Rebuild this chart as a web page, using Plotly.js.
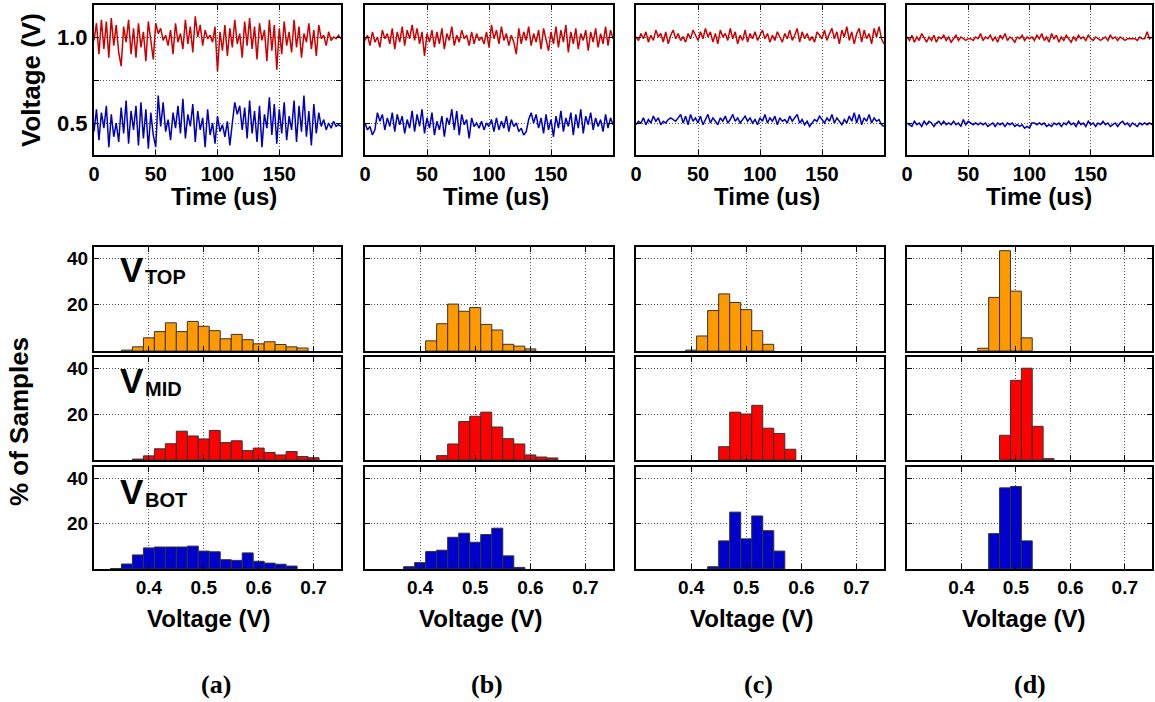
<!DOCTYPE html>
<html>
<head>
<meta charset="utf-8">
<script src="https://cdn.plot.ly/plotly-3.0.1.min.js"></script>
<style>html,body{margin:0;padding:0;background:#fff;}#chart{width:1155px;height:702px;}</style>
</head>
<body>
<div id="chart"></div>
<script>
// ---------- DATA ----------
const time = [0,2,4,6,8,10,12,14,16,18,20,22,24,26,28,30,32,34,36,38,40,42,44,46,48,50,52,54,56,58,60,62,64,66,68,70,72,74,76,78,80,82,84,86,88,90,92,94,96,98,100,102,104,106,108,110,112,114,116,118,120,122,124,126,128,130,132,134,136,138,140,142,144,146,148,150,152,154,156,158,160,162,164,166,168,170,172,174,176,178,180,182,184,186,188,190,192,194,196,198,200];

const redA = [0.98,1.08,0.90,1.10,0.93,1.09,0.88,1.11,0.95,1.07,0.91,0.83,1.06,0.97,1.10,0.90,1.05,0.88,1.08,0.94,1.03,0.86,1.09,0.99,0.87,1.08,1.02,1.05,0.98,1.01,0.95,1.04,0.90,1.08,0.97,1.02,0.93,1.10,0.96,1.06,0.91,1.12,1.00,1.07,0.95,1.04,0.99,1.01,0.97,1.06,0.80,1.03,0.92,1.07,0.89,1.05,0.94,1.10,0.96,1.02,0.88,1.09,0.95,1.11,0.93,1.06,0.87,1.08,0.98,1.04,0.86,1.10,0.92,1.07,0.81,1.05,0.90,1.09,0.95,1.03,0.91,1.10,0.94,1.06,0.88,1.02,0.97,1.08,0.93,1.04,0.89,1.07,0.99,1.01,0.95,1.03,0.98,1.00,0.99,1.01,0.99];
const blueA = [0.45,0.58,0.40,0.56,0.47,0.60,0.36,0.55,0.42,0.50,0.39,0.59,0.44,0.63,0.38,0.57,0.46,0.60,0.37,0.62,0.41,0.58,0.35,0.56,0.43,0.36,0.66,0.48,0.62,0.45,0.52,0.40,0.56,0.47,0.60,0.44,0.64,0.41,0.55,0.48,0.61,0.39,0.57,0.46,0.53,0.36,0.58,0.43,0.50,0.38,0.54,0.45,0.49,0.42,0.51,0.37,0.50,0.62,0.55,0.60,0.46,0.59,0.41,0.63,0.44,0.57,0.39,0.60,0.36,0.55,0.47,0.65,0.43,0.61,0.38,0.58,0.44,0.62,0.40,0.54,0.46,0.63,0.39,0.60,0.45,0.66,0.42,0.57,0.37,0.61,0.44,0.56,0.48,0.52,0.46,0.50,0.47,0.51,0.48,0.49,0.48];

const redB = [0.98,1.01,0.95,1.03,0.97,1.00,0.94,1.04,0.99,1.02,0.96,1.05,0.93,1.03,0.97,1.06,0.95,1.04,0.99,1.07,0.98,1.05,0.96,1.03,0.89,1.02,0.97,1.04,0.94,1.03,0.96,1.05,0.93,1.02,0.98,1.06,0.95,1.01,0.97,1.04,0.99,1.01,0.95,1.03,0.96,1.02,0.98,1.00,0.96,1.03,0.94,1.07,0.99,1.04,0.96,1.06,0.98,1.02,0.95,1.01,0.97,0.90,1.05,0.96,1.03,0.98,1.06,0.95,1.02,0.97,1.04,0.93,1.05,0.99,0.92,1.03,0.96,1.06,0.94,1.04,0.97,1.07,0.91,1.03,0.96,1.05,0.93,1.02,0.98,1.04,0.92,1.03,0.97,1.05,0.94,1.02,0.96,1.06,0.95,1.04,0.99];
const blueB = [0.50,0.46,0.48,0.43,0.46,0.56,0.51,0.55,0.46,0.53,0.48,0.56,0.45,0.55,0.49,0.54,0.44,0.52,0.47,0.57,0.45,0.55,0.48,0.58,0.44,0.53,0.47,0.56,0.43,0.51,0.46,0.54,0.42,0.53,0.49,0.58,0.46,0.57,0.43,0.55,0.49,0.52,0.41,0.53,0.48,0.50,0.47,0.51,0.46,0.50,0.48,0.52,0.45,0.53,0.46,0.51,0.47,0.54,0.45,0.52,0.48,0.50,0.45,0.47,0.43,0.45,0.52,0.56,0.50,0.55,0.47,0.53,0.44,0.55,0.46,0.52,0.42,0.54,0.47,0.57,0.45,0.53,0.48,0.56,0.43,0.55,0.47,0.58,0.44,0.54,0.49,0.56,0.46,0.53,0.48,0.52,0.45,0.55,0.47,0.53,0.49];

const redC = [1.00,0.98,1.02,0.99,1.03,0.97,1.01,0.98,1.04,1.00,1.02,0.97,1.03,0.96,1.01,1.04,0.99,1.02,0.98,1.00,0.97,1.02,0.99,1.04,1.01,0.98,1.03,0.99,1.05,1.00,1.03,0.97,1.02,0.96,1.04,1.00,1.02,0.98,1.05,0.99,1.03,0.96,1.01,0.98,1.04,0.97,1.02,0.99,1.03,0.98,1.01,1.04,0.99,1.02,0.97,1.01,0.98,1.03,1.00,0.97,1.02,0.99,1.04,0.98,1.01,1.05,0.97,1.03,0.99,1.02,0.98,1.00,0.97,1.03,1.01,0.99,1.04,0.98,1.02,1.05,0.99,1.03,0.96,1.04,1.00,1.06,0.98,1.03,0.96,1.02,1.05,0.97,1.04,0.99,1.02,0.96,1.05,1.00,1.06,0.99,0.96];
const blueC = [0.49,0.51,0.50,0.53,0.49,0.52,0.50,0.54,0.51,0.53,0.49,0.51,0.50,0.52,0.53,0.52,0.51,0.53,0.55,0.50,0.54,0.49,0.55,0.51,0.53,0.50,0.54,0.49,0.52,0.55,0.50,0.53,0.51,0.49,0.53,0.51,0.54,0.50,0.52,0.55,0.51,0.53,0.50,0.52,0.54,0.51,0.53,0.50,0.52,0.49,0.53,0.51,0.55,0.50,0.53,0.51,0.54,0.49,0.53,0.51,0.52,0.50,0.54,0.51,0.53,0.55,0.50,0.52,0.49,0.51,0.48,0.50,0.52,0.51,0.54,0.52,0.50,0.53,0.51,0.55,0.50,0.53,0.51,0.49,0.52,0.50,0.54,0.51,0.56,0.50,0.55,0.49,0.53,0.51,0.55,0.50,0.53,0.51,0.52,0.49,0.48];

const redD = [1.00,0.98,1.01,0.97,1.00,0.98,1.02,0.99,0.97,1.00,0.98,1.01,0.97,1.00,0.99,1.01,0.98,1.00,0.97,0.99,1.01,0.98,1.00,0.99,0.98,0.99,0.99,0.98,1.00,0.99,1.02,0.98,1.00,0.99,1.01,0.98,1.00,0.97,1.01,0.99,1.02,0.98,1.00,0.99,0.97,1.00,0.99,1.01,0.98,1.00,0.99,1.00,0.98,1.01,0.99,1.02,0.98,1.00,0.97,1.02,0.99,1.01,0.97,1.00,0.98,1.01,0.99,0.97,1.00,0.98,1.01,0.99,1.00,0.98,1.01,0.99,0.98,1.00,0.99,0.98,0.99,1.00,0.98,1.01,0.99,1.00,0.98,1.00,0.99,0.98,0.99,0.99,0.99,0.99,0.98,1.00,0.99,0.99,1.03,0.99,1.00];
const blueD = [0.50,0.49,0.48,0.51,0.49,0.50,0.48,0.51,0.49,0.51,0.50,0.48,0.50,0.51,0.49,0.51,0.49,0.50,0.49,0.51,0.49,0.50,0.48,0.52,0.49,0.51,0.50,0.49,0.50,0.49,0.50,0.49,0.50,0.48,0.49,0.50,0.48,0.50,0.49,0.50,0.48,0.50,0.49,0.50,0.48,0.49,0.48,0.49,0.47,0.48,0.47,0.50,0.50,0.49,0.50,0.49,0.50,0.48,0.49,0.48,0.50,0.49,0.50,0.48,0.50,0.49,0.51,0.49,0.50,0.48,0.51,0.49,0.50,0.48,0.51,0.49,0.50,0.48,0.50,0.49,0.51,0.49,0.50,0.48,0.49,0.50,0.48,0.50,0.51,0.49,0.50,0.48,0.50,0.49,0.48,0.50,0.49,0.50,0.49,0.50,0.49];

// Histograms: bin centres (V) and % of samples
const topAx = [0.36,0.38,0.40,0.42,0.44,0.46,0.48,0.50,0.52,0.54,0.56,0.58,0.60,0.62,0.64,0.66,0.68];
const topAy = [0.4,1.8,5.7,8.4,12.2,8.4,12.8,10.7,8.8,5.3,7.2,4.9,3.1,4.0,2.8,1.8,1.3];
const midAx = [0.38,0.40,0.42,0.44,0.46,0.48,0.50,0.52,0.54,0.56,0.58,0.60,0.62,0.64,0.66,0.68,0.70];
const midAy = [0.4,1.8,4.9,7.1,12.6,10.5,9.2,12.9,7.6,8.4,4.1,5.2,3.3,2.2,3.7,1.5,1.0];
const botAx = [0.34,0.36,0.38,0.40,0.42,0.44,0.46,0.48,0.50,0.52,0.54,0.56,0.58,0.60,0.62,0.64,0.66];
const botAy = [0.2,2.2,6.2,9.3,9.7,9.7,9.7,10.1,7.9,7.6,4.1,3.8,7.1,3.4,2.6,2.1,1.3];

const topBx = [0.42,0.44,0.46,0.48,0.50,0.52,0.54,0.56,0.58,0.60];
const topBy = [4.4,11.8,20.3,17.2,18.8,11.5,9.1,2.9,2.1,0.9];
const midBx = [0.44,0.46,0.48,0.50,0.52,0.54,0.56,0.58,0.60,0.62,0.64];
const midBy = [1.9,7.0,16.8,19.1,20.9,14.4,9.3,7.0,2.2,1.3,0.9];
const botBx = [0.38,0.40,0.42,0.44,0.46,0.48,0.50,0.52,0.54,0.56,0.58];
const botBy = [1.0,2.8,7.7,8.3,14.0,15.8,11.8,15.2,18.0,5.8,0.7];

const topCx = [0.40,0.42,0.44,0.46,0.48,0.50,0.52,0.54];
const topCy = [0.4,6.5,17.5,24.7,21.0,17.9,8.8,2.9];
const midCx = [0.46,0.48,0.50,0.52,0.54,0.56,0.58];
const midCy = [5.8,20.9,20.1,23.9,13.9,11.6,4.7];
const botCx = [0.44,0.46,0.48,0.50,0.52,0.54,0.56];
const botCy = [1.0,12.4,25.1,13.3,23.4,16.9,7.9];

const topDx = [0.44,0.46,0.48,0.50,0.52];
const topDy = [1.2,23.2,43.4,25.9,5.7];
const midDx = [0.48,0.50,0.52,0.54,0.56];
const midDy = [10.8,34.8,40.1,14.7,0.6];
const botDx = [0.46,0.48,0.50,0.52];
const botDy = [15.6,35.8,36.4,12.4];

const timeTicks = [0,50,100,150];
const voltTicks = [0.5,0.75,1.0];
const voltTickText = ['0.5','','1.0'];
const histXTicks = [0.4,0.5,0.6,0.7];
const histXTickText = ['0.4','0.5','0.6','0.7'];
const histYTicks = [20,40];
const histYTickText = ['20','40'];
const panelLabels = ['(a)','(b)','(c)','(d)'];
const nodeNames = ['TOP','MID','BOT'];

// ---------- LAYOUT ----------
const W = 1155, H = 702;
const fx = p => p / W;
const fy = p => 1 - p / H;
const colX = [[94,341],[365,613],[636,884],[907,1152]];
const topRowY = [5,155];
const histRowsY = [[247,351],[357,460],[467,569]];
const FONT = 'Liberation Sans, Arial, Helvetica, sans-serif';
const SERIF = 'Liberation Serif, Times New Roman, serif';

const redSeries = [redA, redB, redC, redD];
const blueSeries = [blueA, blueB, blueC, blueD];
const histX = [[topAx,midAx,botAx],[topBx,midBx,botBx],[topCx,midCx,botCx],[topDx,midDx,botDx]];
const histY = [[topAy,midAy,botAy],[topBy,midBy,botBy],[topCy,midCy,botCy],[topDy,midDy,botDy]];
const histColors = ['#FF9900','#FF0000','#0000CC'];

function baseAxis() {
  return {showline:true, mirror:'allticks', linecolor:'#000', linewidth:2,
          ticks:'inside', ticklen:5, tickwidth:1, tickcolor:'#000',
          showgrid:true, gridcolor:'#555', griddash:'1px,2px', gridwidth:1,
          zeroline:false, fixedrange:true};
}
const axName = (k, n) => k + (n === 1 ? '' : n);

const traces = [];
const layout = {width:W, height:H, margin:{l:0,r:0,t:0,b:0},
  paper_bgcolor:'#fff', plot_bgcolor:'#fff', showlegend:false, bargap:0,
  annotations:[]};

// Top row: time series
for (let c = 0; c < 4; c++) {
  const n = c + 1;
  layout[axName('xaxis', n)] = Object.assign(baseAxis(), {
    domain:[fx(colX[c][0]), fx(colX[c][1])], anchor:axName('y', n), range:[0,200],
    tickvals:timeTicks, ticktext:timeTicks.map(String),
    tickfont:{family:FONT, size:20, color:'#000', weight:'bold'}});
  layout[axName('yaxis', n)] = Object.assign(baseAxis(), {
    domain:[fy(topRowY[1]), fy(topRowY[0])], anchor:axName('x', n), range:[0.314,1.186],
    tickvals:voltTicks, ticktext:voltTickText, showticklabels:c === 0,
    tickfont:{family:FONT, size:22, color:'#000', weight:'bold'}});
  traces.push({type:'scatter', mode:'lines', x:time, y:redSeries[c], xaxis:axName('x', n), yaxis:axName('y', n),
    line:{color:'#CC0000', width:1.5}, hoverinfo:'skip'});
  traces.push({type:'scatter', mode:'lines', x:time, y:blueSeries[c], xaxis:axName('x', n), yaxis:axName('y', n),
    line:{color:'#0000BB', width:1.5}, hoverinfo:'skip'});
}

// Histograms
for (let r = 0; r < 3; r++) {
  for (let c = 0; c < 4; c++) {
    const n = 5 + r * 4 + c;
    layout[axName('xaxis', n)] = Object.assign(baseAxis(), {
      domain:[fx(colX[c][0]), fx(colX[c][1])], anchor:axName('y', n), range:[0.3,0.75],
      tickvals:histXTicks, ticktext:histXTickText, showticklabels:r === 2,
      tickfont:{family:FONT, size:19, color:'#000', weight:'bold'}});
    layout[axName('yaxis', n)] = Object.assign(baseAxis(), {
      domain:[fy(histRowsY[r][1]), fy(histRowsY[r][0])], anchor:axName('x', n), range:[0,45],
      tickvals:histYTicks, ticktext:histYTickText, showticklabels:c === 0,
      tickfont:{family:FONT, size:19, color:'#000', weight:'bold'}});
    traces.push({type:'bar', x:histX[c][r], y:histY[c][r], width:0.02,
      xaxis:axName('x', n), yaxis:axName('y', n),
      marker:{color:histColors[r], line:{color:'#333', width:1}}, hoverinfo:'skip'});
  }
}

// Titles and labels
const ann = layout.annotations;
const bold = (size, fam) => ({family:fam || FONT, size:size, color:'#000', weight:'bold'});
const timeCenters = [224, 496, 767, 1039];
const voltCenters = [209, 481, 752, 1024];
const labelCenters = [216, 487, 758, 1030];
for (let c = 0; c < 4; c++) {
  ann.push({xref:'paper', yref:'paper', x:fx(timeCenters[c]), y:fy(197), text:'Time (us)',
    showarrow:false, xanchor:'center', yanchor:'middle', font:bold(24)});
  ann.push({xref:'paper', yref:'paper', x:fx(voltCenters[c]), y:fy(618), text:'Voltage (V)',
    showarrow:false, xanchor:'center', yanchor:'middle', font:bold(24)});
  ann.push({xref:'paper', yref:'paper', x:fx(labelCenters[c]), y:fy(684), text:panelLabels[c],
    showarrow:false, xanchor:'center', yanchor:'middle', font:bold(26, SERIF)});
}
ann.push({xref:'paper', yref:'paper', x:fx(31), y:fy(80), text:'Voltage (V)', textangle:-90,
  showarrow:false, xanchor:'center', yanchor:'middle', font:bold(26)});
ann.push({xref:'paper', yref:'paper', x:fx(19), y:fy(422), text:'% of Samples', textangle:-90,
  showarrow:false, xanchor:'center', yanchor:'middle', font:bold(26)});

const vY = [269, 381, 492];
for (let r = 0; r < 3; r++) {
  ann.push({xref:'paper', yref:'paper', x:fx(118), y:fy(vY[r]), text:'V',
    showarrow:false, xanchor:'left', yanchor:'middle', font:bold(35)});
  ann.push({xref:'paper', yref:'paper', x:fx(143), y:fy(vY[r] + 8), text:nodeNames[r],
    showarrow:false, xanchor:'left', yanchor:'middle', font:bold(20)});
}

Plotly.newPlot('chart', traces, layout, {displayModeBar:false, staticPlot:true});
</script>
</body>
</html>
